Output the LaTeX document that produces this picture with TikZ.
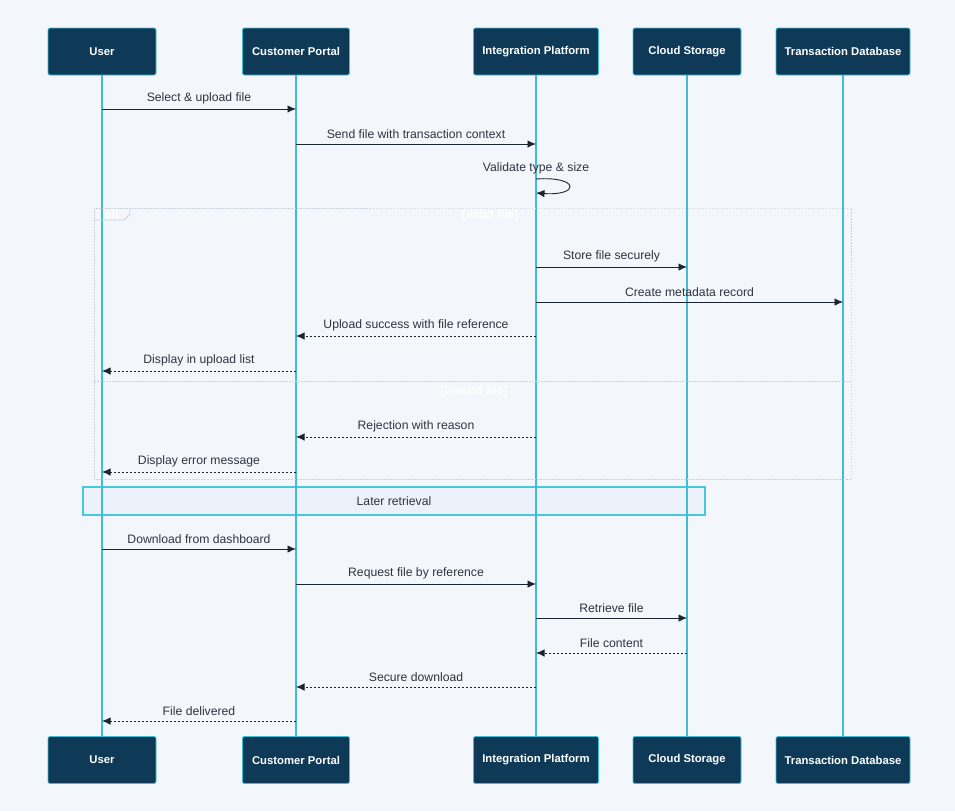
\documentclass[tikz,border=0pt]{standalone}
\usepackage{fontspec}
\setmainfont{Liberation Sans}
\usetikzlibrary{arrows.meta}

\definecolor{bgcol}{HTML}{F3F7FB}
\definecolor{actorfill}{HTML}{0E3A58}
\definecolor{lifecol}{HTML}{3EBDD6}
\definecolor{msgcol}{HTML}{1B2431}
\definecolor{txtcol}{HTML}{2E3440}
\definecolor{framecol}{HTML}{C9D3DE}
\definecolor{notefill}{HTML}{EDF2FA}
\definecolor{noteline}{HTML}{46C8DE}

\begin{document}
\begin{tikzpicture}[
  x=1pt, y=-1pt,
  actor/.style={rectangle, rounded corners=2pt, fill=actorfill, draw=lifecol, line width=0.8pt,
    minimum height=47, text=white, font=\fontsize{11.3}{13}\selectfont\bfseries, inner sep=0pt},
  lifeline/.style={draw=lifecol, line width=1.8pt},
  msg/.style={draw=msgcol, line width=0.9pt, -{Latex[length=8.5pt,width=7.5pt]}},
  reply/.style={msg, dash pattern=on 2.5pt off 1.5pt},
  lbl/.style={above=4.5pt, text=txtcol, font=\fontsize{12.2}{14}\selectfont, inner sep=0pt},
  frameline/.style={draw=framecol, line width=0.8pt, dash pattern=on 1.5pt off 1.5pt},
  guard/.style={text=white, font=\fontsize{12}{14}\selectfont\bfseries, inner sep=0pt},
  notebox/.style={rectangle, fill=notefill, draw=noteline, line width=1.4pt,
    text=txtcol, font=\fontsize{12.2}{14}\selectfont}
]

  % Background
  \fill[bgcol] (0,0) rectangle (955,811);
  \useasboundingbox (0,0) rectangle (955,811);

  % Participants (top)
  \node[actor, minimum width=108] (userT) at (102,51.5) {User};
  \node[actor, minimum width=107] (portalT) at (296,51.5) {Customer Portal};
  \node[actor, minimum width=125] (integT) at (536,51.5) {Integration Platform};
  \node[actor, minimum width=108] (cloudT) at (687,51.5) {Cloud Storage};
  \node[actor, minimum width=134] (dbT) at (843,51.5) {Transaction Database};

  % Participants (bottom)
  \node[actor, minimum width=108] (userB) at (102,760) {User};
  \node[actor, minimum width=107] (portalB) at (296,760) {Customer Portal};
  \node[actor, minimum width=125] (integB) at (536,760) {Integration Platform};
  \node[actor, minimum width=108] (cloudB) at (687,760) {Cloud Storage};
  \node[actor, minimum width=134] (dbB) at (843,760) {Transaction Database};

  % Note
  \node[notebox, minimum width=622, minimum height=28] (later) at (394,501) {Later retrieval};

  % Lifelines
  \draw[lifeline] (userT) -- (userB);
  \draw[lifeline] (portalT) -- (portalB);
  \draw[lifeline] (integT) -- (integB);
  \draw[lifeline] (cloudT) -- (cloudB);
  \draw[lifeline] (dbT) -- (dbB);

  % Alt frame
  \draw[frameline] (94,208) rectangle (851,479);
  \draw[frameline] (94,381) -- (851,381);
  \draw[draw=framecol, line width=0.8pt] (94,220) -- (124,220) -- (130,214) -- (130,208);
  \node[guard] (altlbl) at (112,214.5) {alt};
  \node[guard] (valid) at (490,215) {[Valid file]};
  \node[guard] (invalid) at (474,391) {[Invalid file]};

  % Message end points
  \coordinate (m1a) at (userT |- 0,109);   \coordinate (m1b) at (portalT |- 0,109);
  \coordinate (m2a) at (portalT |- 0,144); \coordinate (m2b) at (integT |- 0,144);
  \coordinate (m3a) at (integT |- 0,179);  \coordinate (m3b) at (integT |- 0,193);
  \coordinate (m4a) at (integT |- 0,267);  \coordinate (m4b) at (cloudT |- 0,267);
  \coordinate (m5a) at (integT |- 0,302);  \coordinate (m5b) at (dbT |- 0,302);
  \coordinate (m6a) at (integT |- 0,336);  \coordinate (m6b) at (portalT |- 0,336);
  \coordinate (m7a) at (portalT |- 0,371); \coordinate (m7b) at (userT |- 0,371);
  \coordinate (m8a) at (integT |- 0,437);  \coordinate (m8b) at (portalT |- 0,437);
  \coordinate (m9a) at (portalT |- 0,472); \coordinate (m9b) at (userT |- 0,472);
  \coordinate (m10a) at (userT |- 0,549);  \coordinate (m10b) at (portalT |- 0,549);
  \coordinate (m11a) at (portalT |- 0,584); \coordinate (m11b) at (integT |- 0,584);
  \coordinate (m12a) at (integT |- 0,618); \coordinate (m12b) at (cloudT |- 0,618);
  \coordinate (m13a) at (cloudT |- 0,653); \coordinate (m13b) at (integT |- 0,653);
  \coordinate (m14a) at (integT |- 0,687); \coordinate (m14b) at (portalT |- 0,687);
  \coordinate (m15a) at (portalT |- 0,721); \coordinate (m15b) at (userT |- 0,721);

  % Upload
  \draw[msg] (m1a) -- node[lbl] {Select \& upload file} (m1b);
  \draw[msg] (m2a) -- node[lbl] {Send file with transaction context} (m2b);
  \draw[msg] (m3a) .. controls (580,176) and (580,196) .. (m3b);
  \node[lbl] (m3lbl) at (m3a) {Validate type \& size};

  % Valid file
  \draw[msg] (m4a) -- node[lbl] {Store file securely} (m4b);
  \draw[msg] (m5a) -- node[lbl] {Create metadata record} (m5b);
  \draw[reply] (m6a) -- node[lbl] {Upload success with file reference} (m6b);
  \draw[reply] (m7a) -- node[lbl] {Display in upload list} (m7b);

  % Invalid file
  \draw[reply] (m8a) -- node[lbl] {Rejection with reason} (m8b);
  \draw[reply] (m9a) -- node[lbl] {Display error message} (m9b);

  % Retrieval
  \draw[msg] (m10a) -- node[lbl] {Download from dashboard} (m10b);
  \draw[msg] (m11a) -- node[lbl] {Request file by reference} (m11b);
  \draw[msg] (m12a) -- node[lbl] {Retrieve file} (m12b);
  \draw[reply] (m13a) -- node[lbl] {File content} (m13b);
  \draw[reply] (m14a) -- node[lbl] {Secure download} (m14b);
  \draw[reply] (m15a) -- node[lbl] {File delivered} (m15b);

\end{tikzpicture}
\end{document}
